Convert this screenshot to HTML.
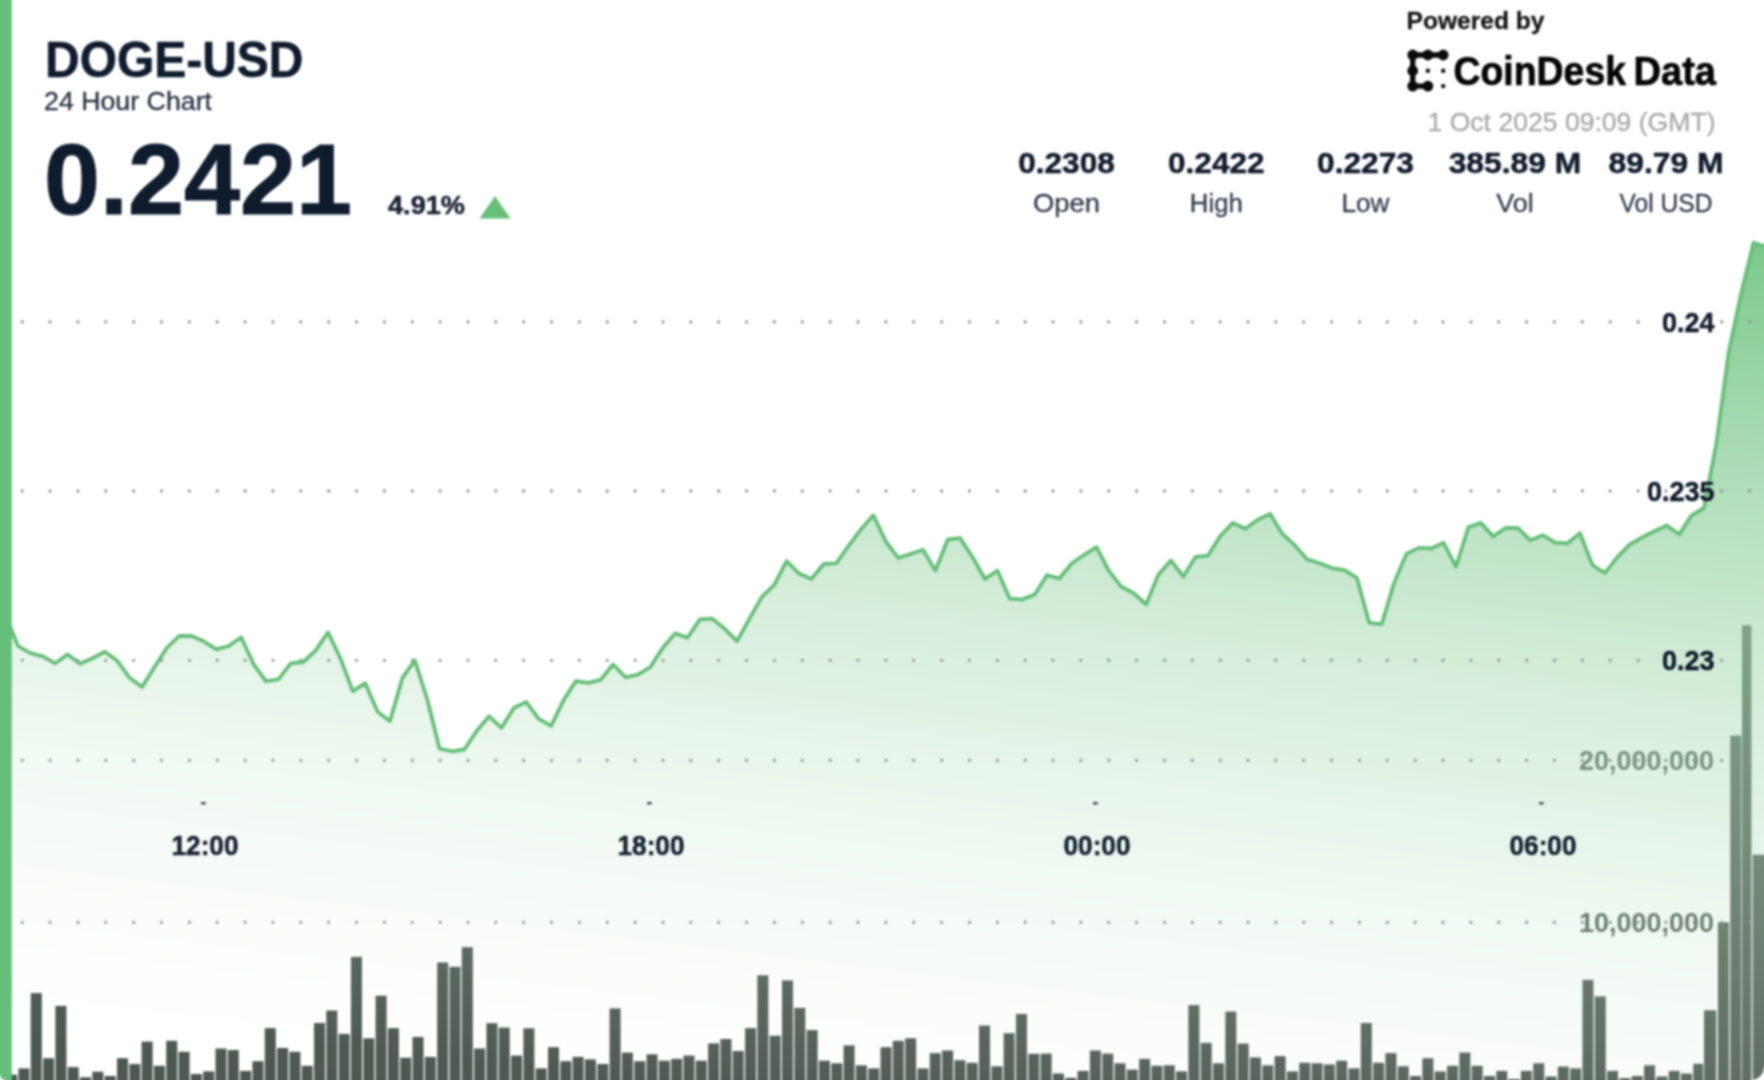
<!DOCTYPE html>
<html lang="en"><head><meta charset="utf-8"><title>DOGE-USD 24 Hour Chart</title>
<style>
html,body{margin:0;padding:0;background:#fff;}
body{width:1764px;height:1080px;overflow:hidden;}
svg{display:block;font-family:"Liberation Sans",Arial,Helvetica,sans-serif;}
</style></head><body>
<svg width="1764" height="1080" viewBox="0 0 1764 1080">
<defs>
<linearGradient id="ag" gradientUnits="userSpaceOnUse" x1="1764" y1="242" x2="1641.0" y2="1267.2"><stop offset="0.0000" stop-color="rgb(117,197,134)" stop-opacity="0.964"/><stop offset="0.0625" stop-color="rgb(125,201,141)" stop-opacity="0.900"/><stop offset="0.1250" stop-color="rgb(132,204,147)" stop-opacity="0.837"/><stop offset="0.1875" stop-color="rgb(140,207,154)" stop-opacity="0.773"/><stop offset="0.2500" stop-color="rgb(147,210,161)" stop-opacity="0.709"/><stop offset="0.3125" stop-color="rgb(155,213,167)" stop-opacity="0.645"/><stop offset="0.3750" stop-color="rgb(162,216,174)" stop-opacity="0.582"/><stop offset="0.4375" stop-color="rgb(170,219,180)" stop-opacity="0.518"/><stop offset="0.5000" stop-color="rgb(177,222,187)" stop-opacity="0.454"/><stop offset="0.5625" stop-color="rgb(184,225,193)" stop-opacity="0.391"/><stop offset="0.6250" stop-color="rgb(192,229,200)" stop-opacity="0.327"/><stop offset="0.6875" stop-color="rgb(199,232,206)" stop-opacity="0.263"/><stop offset="0.7500" stop-color="rgb(207,235,213)" stop-opacity="0.200"/><stop offset="0.8125" stop-color="rgb(214,238,219)" stop-opacity="0.136"/><stop offset="0.8750" stop-color="rgb(222,241,226)" stop-opacity="0.072"/><stop offset="0.9375" stop-color="rgb(229,244,232)" stop-opacity="0.008"/><stop offset="1.0000" stop-color="rgb(237,247,239)" stop-opacity="0.000"/></linearGradient>
<clipPath id="cp"><path d="M-30 -30 H1794 V1067 H1764 A13 13 0 0 1 1751 1080 V1110 H5 V1080 A5 5 0 0 1 0 1075 H-30 Z"/></clipPath>
<filter id="bl" color-interpolation-filters="sRGB" filterUnits="userSpaceOnUse" x="-30" y="-30" width="1824" height="1140"><feGaussianBlur stdDeviation="1.0"/></filter>
</defs>
<g filter="url(#bl)">
<rect x="-30" y="-30" width="1824" height="1140" fill="#ffffff"/>
<g clip-path="url(#cp)">
<g fill="#4c5850"><rect x="6.15" y="1074.7" width="11.0" height="35.3"/><rect x="18.46" y="1068.4" width="11.0" height="41.6"/><rect x="30.78" y="993.1" width="11.0" height="116.9"/><rect x="43.1" y="1058.2" width="11.0" height="51.8"/><rect x="55.41" y="1005.9" width="11.0" height="104.1"/><rect x="67.72" y="1067.1" width="11.0" height="42.9"/><rect x="80.04" y="1077.3" width="11.0" height="32.7"/><rect x="92.35" y="1071.7" width="11.0" height="38.3"/><rect x="104.67" y="1076.0" width="11.0" height="34.0"/><rect x="116.98" y="1058.2" width="11.0" height="51.8"/><rect x="129.3" y="1064.0" width="11.0" height="46.0"/><rect x="141.62" y="1041.6" width="11.0" height="68.4"/><rect x="153.93" y="1065.8" width="11.0" height="44.2"/><rect x="166.24" y="1040.8" width="11.0" height="69.2"/><rect x="178.56" y="1051.8" width="11.0" height="58.2"/><rect x="190.87" y="1074.0" width="11.0" height="36.0"/><rect x="203.19" y="1071.4" width="11.0" height="38.6"/><rect x="215.5" y="1048.5" width="11.0" height="61.5"/><rect x="227.82" y="1050.0" width="11.0" height="60.0"/><rect x="240.13" y="1070.9" width="11.0" height="39.1"/><rect x="252.45" y="1061.2" width="11.0" height="48.8"/><rect x="264.77" y="1028.1" width="11.0" height="81.9"/><rect x="277.08" y="1048.0" width="11.0" height="62.0"/><rect x="289.4" y="1051.8" width="11.0" height="58.2"/><rect x="301.71" y="1065.8" width="11.0" height="44.2"/><rect x="314.03" y="1023.0" width="11.0" height="87.0"/><rect x="326.34" y="1010.5" width="11.0" height="99.5"/><rect x="338.65" y="1033.9" width="11.0" height="76.1"/><rect x="350.97" y="956.9" width="11.0" height="153.1"/><rect x="363.28" y="1038.3" width="11.0" height="71.7"/><rect x="375.6" y="995.7" width="11.0" height="114.3"/><rect x="387.91" y="1028.1" width="11.0" height="81.9"/><rect x="400.23" y="1057.7" width="11.0" height="52.3"/><rect x="412.54" y="1037.0" width="11.0" height="73.0"/><rect x="424.86" y="1056.9" width="11.0" height="53.1"/><rect x="437.17" y="962.5" width="11.0" height="147.5"/><rect x="449.49" y="966.8" width="11.0" height="143.2"/><rect x="461.8" y="947.2" width="11.0" height="162.8"/><rect x="474.12" y="1048.5" width="11.0" height="61.5"/><rect x="486.43" y="1023.2" width="11.0" height="86.8"/><rect x="498.75" y="1027.6" width="11.0" height="82.4"/><rect x="511.06" y="1055.6" width="11.0" height="54.4"/><rect x="523.38" y="1028.3" width="11.0" height="81.7"/><rect x="535.69" y="1068.4" width="11.0" height="41.6"/><rect x="548.01" y="1047.2" width="11.0" height="62.8"/><rect x="560.32" y="1061.2" width="11.0" height="48.8"/><rect x="572.64" y="1056.9" width="11.0" height="53.1"/><rect x="584.95" y="1059.4" width="11.0" height="50.6"/><rect x="597.27" y="1064.0" width="11.0" height="46.0"/><rect x="609.58" y="1008.4" width="11.0" height="101.6"/><rect x="621.9" y="1052.6" width="11.0" height="57.4"/><rect x="634.21" y="1061.2" width="11.0" height="48.8"/><rect x="646.53" y="1054.3" width="11.0" height="55.7"/><rect x="658.84" y="1060.7" width="11.0" height="49.3"/><rect x="671.16" y="1058.9" width="11.0" height="51.1"/><rect x="683.47" y="1055.6" width="11.0" height="54.4"/><rect x="695.79" y="1060.7" width="11.0" height="49.3"/><rect x="708.1" y="1043.4" width="11.0" height="66.6"/><rect x="720.42" y="1039.0" width="11.0" height="71.0"/><rect x="732.73" y="1051.0" width="11.0" height="59.0"/><rect x="745.05" y="1028.1" width="11.0" height="81.9"/><rect x="757.36" y="975.3" width="11.0" height="134.7"/><rect x="769.68" y="1035.7" width="11.0" height="74.3"/><rect x="781.99" y="980.4" width="11.0" height="129.6"/><rect x="794.31" y="1007.9" width="11.0" height="102.1"/><rect x="806.63" y="1030.1" width="11.0" height="79.9"/><rect x="818.94" y="1060.7" width="11.0" height="49.3"/><rect x="831.26" y="1063.3" width="11.0" height="46.7"/><rect x="843.57" y="1045.4" width="11.0" height="64.6"/><rect x="855.89" y="1065.3" width="11.0" height="44.7"/><rect x="868.2" y="1068.4" width="11.0" height="41.6"/><rect x="880.52" y="1047.2" width="11.0" height="62.8"/><rect x="892.83" y="1040.8" width="11.0" height="69.2"/><rect x="905.15" y="1038.3" width="11.0" height="71.7"/><rect x="917.46" y="1068.4" width="11.0" height="41.6"/><rect x="929.77" y="1053.1" width="11.0" height="56.9"/><rect x="942.09" y="1050.5" width="11.0" height="59.5"/><rect x="954.4" y="1060.2" width="11.0" height="49.8"/><rect x="966.72" y="1062.8" width="11.0" height="47.2"/><rect x="979.03" y="1025.5" width="11.0" height="84.5"/><rect x="991.35" y="1066.3" width="11.0" height="43.7"/><rect x="1003.66" y="1033.2" width="11.0" height="76.8"/><rect x="1015.98" y="1014.0" width="11.0" height="96.0"/><rect x="1028.29" y="1053.8" width="11.0" height="56.2"/><rect x="1040.61" y="1053.6" width="11.0" height="56.4"/><rect x="1052.92" y="1073.5" width="11.0" height="36.5"/><rect x="1065.24" y="1077.8" width="11.0" height="32.2"/><rect x="1077.55" y="1070.9" width="11.0" height="39.1"/><rect x="1089.87" y="1050.5" width="11.0" height="59.5"/><rect x="1102.18" y="1053.6" width="11.0" height="56.4"/><rect x="1114.5" y="1063.3" width="11.0" height="46.7"/><rect x="1126.81" y="1069.6" width="11.0" height="40.4"/><rect x="1139.13" y="1058.9" width="11.0" height="51.1"/><rect x="1151.44" y="1065.8" width="11.0" height="44.2"/><rect x="1163.76" y="1065.3" width="11.0" height="44.7"/><rect x="1176.07" y="1071.4" width="11.0" height="38.6"/><rect x="1188.39" y="1005.1" width="11.0" height="104.9"/><rect x="1200.71" y="1042.9" width="11.0" height="67.1"/><rect x="1213.02" y="1063.3" width="11.0" height="46.7"/><rect x="1225.33" y="1011.5" width="11.0" height="98.5"/><rect x="1237.65" y="1043.6" width="11.0" height="66.4"/><rect x="1249.97" y="1057.4" width="11.0" height="52.6"/><rect x="1262.28" y="1065.3" width="11.0" height="44.7"/><rect x="1274.59" y="1056.1" width="11.0" height="53.9"/><rect x="1286.91" y="1071.4" width="11.0" height="38.6"/><rect x="1299.23" y="1062.8" width="11.0" height="47.2"/><rect x="1311.54" y="1063.3" width="11.0" height="46.7"/><rect x="1323.85" y="1064.5" width="11.0" height="45.5"/><rect x="1336.17" y="1060.7" width="11.0" height="49.3"/><rect x="1348.49" y="1068.4" width="11.0" height="41.6"/><rect x="1360.8" y="1023.0" width="11.0" height="87.0"/><rect x="1373.11" y="1062.8" width="11.0" height="47.2"/><rect x="1385.43" y="1053.1" width="11.0" height="56.9"/><rect x="1397.75" y="1066.3" width="11.0" height="43.7"/><rect x="1410.06" y="1076.0" width="11.0" height="34.0"/><rect x="1422.37" y="1058.2" width="11.0" height="51.8"/><rect x="1434.69" y="1071.4" width="11.0" height="38.6"/><rect x="1447.01" y="1065.8" width="11.0" height="44.2"/><rect x="1459.32" y="1052.6" width="11.0" height="57.4"/><rect x="1471.63" y="1065.8" width="11.0" height="44.2"/><rect x="1483.95" y="1076.0" width="11.0" height="34.0"/><rect x="1496.27" y="1070.9" width="11.0" height="39.1"/><rect x="1508.58" y="1079.1" width="11.0" height="30.9"/><rect x="1520.89" y="1070.9" width="11.0" height="39.1"/><rect x="1533.21" y="1063.3" width="11.0" height="46.7"/><rect x="1545.53" y="1076.5" width="11.0" height="33.5"/><rect x="1557.84" y="1066.6" width="11.0" height="43.4"/><rect x="1570.15" y="1068.4" width="11.0" height="41.6"/><rect x="1582.47" y="979.8" width="11.0" height="130.2"/><rect x="1594.78" y="996.4" width="11.0" height="113.6"/><rect x="1607.1" y="1070.9" width="11.0" height="39.1"/><rect x="1619.41" y="1078.1" width="11.0" height="31.9"/><rect x="1631.73" y="1076.0" width="11.0" height="34.0"/><rect x="1644.04" y="1065.3" width="11.0" height="44.7"/><rect x="1656.36" y="1076.5" width="11.0" height="33.5"/><rect x="1668.67" y="1070.9" width="11.0" height="39.1"/><rect x="1680.99" y="1073.5" width="11.0" height="36.5"/><rect x="1693.25" y="1063.8" width="9.8" height="46.2"/><rect x="1704.0" y="1010.3" width="12.3" height="99.7"/><rect x="1717.93" y="922.3" width="11.0" height="187.7"/><rect x="1730.25" y="735.6" width="11.0" height="374.4"/><rect x="1742.0" y="625.3" width="9.4" height="484.7"/><rect x="1752.7" y="854.8" width="20" height="255.2"/><text x="1714" y="769.8" font-size="26.8" font-weight="bold" fill="#4c5850" text-anchor="end" textLength="135" lengthAdjust="spacingAndGlyphs">20,000,000</text><text x="1714" y="931.9" font-size="26.8" font-weight="bold" fill="#4c5850" text-anchor="end" textLength="135" lengthAdjust="spacingAndGlyphs">10,000,000</text></g>
<path d="M5.7 616.0 L18.1 646.2 L30.5 653.1 L42.9 656.4 L55.3 663.3 L67.7 654.4 L80.1 663.8 L92.5 658.2 L104.9 651.8 L117.3 660.8 L129.7 677.9 L142.1 687.0 L154.5 667.1 L166.8 648.0 L179.2 636.0 L191.6 636.0 L204.0 641.6 L216.4 649.3 L228.8 646.0 L241.2 637.3 L253.6 664.1 L266.0 681.4 L278.4 679.4 L290.8 663.3 L303.2 662.0 L315.6 650.6 L328.0 632.2 L340.4 658.2 L352.8 691.4 L365.2 683.2 L377.6 711.8 L390.0 721.2 L402.4 677.9 L414.8 660.3 L427.2 699.0 L439.6 748.7 L452.0 751.3 L464.4 749.5 L476.7 730.9 L489.1 716.3 L501.5 727.8 L513.9 707.9 L526.3 702.0 L538.7 718.9 L551.1 725.8 L563.5 700.3 L575.9 681.1 L588.3 682.9 L600.7 679.8 L613.1 664.5 L625.5 677.3 L637.9 674.7 L650.3 667.1 L662.7 648.0 L675.1 633.4 L687.5 637.8 L699.9 619.4 L712.3 618.6 L724.7 628.8 L737.1 641.1 L749.5 618.6 L761.9 596.9 L774.3 584.9 L786.6 561.2 L799.0 573.5 L811.4 579.1 L823.8 563.8 L836.2 563.3 L848.6 545.9 L861.0 529.3 L873.4 515.3 L885.8 541.5 L898.2 557.9 L910.6 554.0 L923.0 549.7 L935.4 570.6 L947.8 539.5 L960.2 538.2 L972.6 557.3 L985.0 579.0 L997.4 570.6 L1009.8 598.7 L1022.2 599.4 L1034.6 594.8 L1047.0 575.2 L1059.4 578.5 L1071.8 563.2 L1084.2 554.8 L1096.5 547.1 L1108.9 570.9 L1121.3 586.7 L1133.7 593.1 L1146.1 604.5 L1158.5 574.4 L1170.9 560.4 L1183.3 576.5 L1195.7 556.8 L1208.1 555.6 L1220.5 535.7 L1232.9 522.9 L1245.3 528.8 L1257.7 519.8 L1270.1 514.0 L1282.5 533.9 L1294.9 545.4 L1307.3 559.4 L1319.7 563.2 L1332.1 568.1 L1344.5 570.1 L1356.9 577.8 L1369.3 622.9 L1381.7 624.2 L1394.1 582.9 L1406.4 554.0 L1418.8 547.9 L1431.2 548.4 L1443.6 542.8 L1456.0 566.8 L1468.4 527.2 L1480.8 522.9 L1493.2 536.4 L1505.6 528.0 L1518.0 528.0 L1530.4 540.3 L1542.8 535.2 L1555.2 542.6 L1567.6 543.3 L1580.0 533.1 L1592.4 565.0 L1604.8 573.2 L1617.2 557.3 L1629.6 544.6 L1642.0 537.4 L1654.4 531.3 L1666.8 525.5 L1679.2 534.4 L1691.6 515.3 L1704.0 508.0 L1716.3 443.9 L1728.7 352.2 L1741.1 293.9 L1753.5 242.8 L1765.9 246.5 L1800 246.5 L1800 1110 L-30 1110 L-30 616.0 Z" fill="url(#ag)"/>
<path d="M5.7 616.0 L18.1 646.2 L30.5 653.1 L42.9 656.4 L55.3 663.3 L67.7 654.4 L80.1 663.8 L92.5 658.2 L104.9 651.8 L117.3 660.8 L129.7 677.9 L142.1 687.0 L154.5 667.1 L166.8 648.0 L179.2 636.0 L191.6 636.0 L204.0 641.6 L216.4 649.3 L228.8 646.0 L241.2 637.3 L253.6 664.1 L266.0 681.4 L278.4 679.4 L290.8 663.3 L303.2 662.0 L315.6 650.6 L328.0 632.2 L340.4 658.2 L352.8 691.4 L365.2 683.2 L377.6 711.8 L390.0 721.2 L402.4 677.9 L414.8 660.3 L427.2 699.0 L439.6 748.7 L452.0 751.3 L464.4 749.5 L476.7 730.9 L489.1 716.3 L501.5 727.8 L513.9 707.9 L526.3 702.0 L538.7 718.9 L551.1 725.8 L563.5 700.3 L575.9 681.1 L588.3 682.9 L600.7 679.8 L613.1 664.5 L625.5 677.3 L637.9 674.7 L650.3 667.1 L662.7 648.0 L675.1 633.4 L687.5 637.8 L699.9 619.4 L712.3 618.6 L724.7 628.8 L737.1 641.1 L749.5 618.6 L761.9 596.9 L774.3 584.9 L786.6 561.2 L799.0 573.5 L811.4 579.1 L823.8 563.8 L836.2 563.3 L848.6 545.9 L861.0 529.3 L873.4 515.3 L885.8 541.5 L898.2 557.9 L910.6 554.0 L923.0 549.7 L935.4 570.6 L947.8 539.5 L960.2 538.2 L972.6 557.3 L985.0 579.0 L997.4 570.6 L1009.8 598.7 L1022.2 599.4 L1034.6 594.8 L1047.0 575.2 L1059.4 578.5 L1071.8 563.2 L1084.2 554.8 L1096.5 547.1 L1108.9 570.9 L1121.3 586.7 L1133.7 593.1 L1146.1 604.5 L1158.5 574.4 L1170.9 560.4 L1183.3 576.5 L1195.7 556.8 L1208.1 555.6 L1220.5 535.7 L1232.9 522.9 L1245.3 528.8 L1257.7 519.8 L1270.1 514.0 L1282.5 533.9 L1294.9 545.4 L1307.3 559.4 L1319.7 563.2 L1332.1 568.1 L1344.5 570.1 L1356.9 577.8 L1369.3 622.9 L1381.7 624.2 L1394.1 582.9 L1406.4 554.0 L1418.8 547.9 L1431.2 548.4 L1443.6 542.8 L1456.0 566.8 L1468.4 527.2 L1480.8 522.9 L1493.2 536.4 L1505.6 528.0 L1518.0 528.0 L1530.4 540.3 L1542.8 535.2 L1555.2 542.6 L1567.6 543.3 L1580.0 533.1 L1592.4 565.0 L1604.8 573.2 L1617.2 557.3 L1629.6 544.6 L1642.0 537.4 L1654.4 531.3 L1666.8 525.5 L1679.2 534.4 L1691.6 515.3 L1704.0 508.0 L1716.3 443.9 L1728.7 352.2 L1741.1 293.9 L1753.5 242.8 L1765.9 246.5" fill="none" stroke="#66bf79" stroke-width="3.8" stroke-linejoin="round" stroke-linecap="round"/>
<line x1="20.9" y1="322" x2="1764" y2="322" stroke="#8d9293" stroke-width="2.8" stroke-dasharray="2.6 25.26" stroke-linecap="butt"/><line x1="20.9" y1="491" x2="1764" y2="491" stroke="#8d9293" stroke-width="2.8" stroke-dasharray="2.6 25.26" stroke-linecap="butt"/><line x1="20.9" y1="660.3" x2="1764" y2="660.3" stroke="#8d9293" stroke-width="2.8" stroke-dasharray="2.6 25.26" stroke-linecap="butt"/><line x1="20.9" y1="760.3" x2="1764" y2="760.3" stroke="#8d9293" stroke-width="2.8" stroke-dasharray="2.6 25.26" stroke-linecap="butt"/><line x1="20.9" y1="922.4" x2="1764" y2="922.4" stroke="#8d9293" stroke-width="2.8" stroke-dasharray="2.6 25.26" stroke-linecap="butt"/>
<rect x="-30" y="-30" width="41.8" height="1140" fill="#66bf79"/>
<polygon points="495,196 510.5,218.5 479.5,218.5" fill="#66bf79"/>
<g fill="#0a0a0a" stroke="#0a0a0a"><path d="M1443.2 55 L1412.7 55 L1412.7 86.1 L1427.9 86.1" fill="none" stroke-width="5.4" stroke-linecap="round" stroke-linejoin="round"/><circle cx="1412.7" cy="55" r="5.4" stroke="none"/><circle cx="1427.9" cy="55" r="5.4" stroke="none"/><circle cx="1443.2" cy="55" r="5.4" stroke="none"/><circle cx="1412.7" cy="70.8" r="5.4" stroke="none"/><circle cx="1412.7" cy="86.1" r="5.4" stroke="none"/><circle cx="1427.9" cy="86.1" r="5.4" stroke="none"/><circle cx="1427.9" cy="70.8" r="2.2" stroke="none"/><circle cx="1443.2" cy="70.8" r="2.2" stroke="none"/><circle cx="1443.2" cy="86.1" r="2.2" stroke="none"/></g>
<text x="45" y="77.0" font-size="50" font-weight="bold" fill="#0f1c2e" text-anchor="start" textLength="258.5" lengthAdjust="spacingAndGlyphs" stroke="#0f1c2e" stroke-width="0.6" stroke-linejoin="round">DOGE-USD</text><text x="44" y="110" font-size="26.5" font-weight="normal" fill="#273242" text-anchor="start" textLength="168" lengthAdjust="spacingAndGlyphs" stroke="#273242" stroke-width="0.3" stroke-linejoin="round">24 Hour Chart</text><text x="44" y="214" font-size="100.5" font-weight="bold" fill="#0f1c2e" text-anchor="start" textLength="308" lengthAdjust="spacingAndGlyphs" stroke="#0f1c2e" stroke-width="1.0" stroke-linejoin="round">0.2421</text><text x="388" y="214" font-size="26" font-weight="bold" fill="#172232" text-anchor="start" textLength="77" lengthAdjust="spacingAndGlyphs" stroke="#172232" stroke-width="0.5" stroke-linejoin="round">4.91%</text><text x="1066.5" y="173" font-size="30" font-weight="bold" fill="#101b2b" text-anchor="middle" textLength="96.5" lengthAdjust="spacingAndGlyphs" stroke="#101b2b" stroke-width="0.5" stroke-linejoin="round">0.2308</text><text x="1066.5" y="212" font-size="26.5" font-weight="normal" fill="#323d4c" text-anchor="middle" textLength="67" lengthAdjust="spacingAndGlyphs" stroke="#323d4c" stroke-width="0.3" stroke-linejoin="round">Open</text><text x="1216.3" y="173" font-size="30" font-weight="bold" fill="#101b2b" text-anchor="middle" textLength="96.5" lengthAdjust="spacingAndGlyphs" stroke="#101b2b" stroke-width="0.5" stroke-linejoin="round">0.2422</text><text x="1216.3" y="212" font-size="26.5" font-weight="normal" fill="#323d4c" text-anchor="middle" textLength="53" lengthAdjust="spacingAndGlyphs" stroke="#323d4c" stroke-width="0.3" stroke-linejoin="round">High</text><text x="1365.5" y="173" font-size="30" font-weight="bold" fill="#101b2b" text-anchor="middle" textLength="97" lengthAdjust="spacingAndGlyphs" stroke="#101b2b" stroke-width="0.5" stroke-linejoin="round">0.2273</text><text x="1365.5" y="212" font-size="26.5" font-weight="normal" fill="#323d4c" text-anchor="middle" textLength="48" lengthAdjust="spacingAndGlyphs" stroke="#323d4c" stroke-width="0.3" stroke-linejoin="round">Low</text><text x="1514.9" y="173" font-size="30" font-weight="bold" fill="#101b2b" text-anchor="middle" textLength="132.5" lengthAdjust="spacingAndGlyphs" stroke="#101b2b" stroke-width="0.5" stroke-linejoin="round">385.89 M</text><text x="1514.9" y="212" font-size="26.5" font-weight="normal" fill="#323d4c" text-anchor="middle" textLength="37.5" lengthAdjust="spacingAndGlyphs" stroke="#323d4c" stroke-width="0.3" stroke-linejoin="round">Vol</text><text x="1666" y="173" font-size="30" font-weight="bold" fill="#101b2b" text-anchor="middle" textLength="115" lengthAdjust="spacingAndGlyphs" stroke="#101b2b" stroke-width="0.5" stroke-linejoin="round">89.79 M</text><text x="1666" y="212" font-size="26.5" font-weight="normal" fill="#323d4c" text-anchor="middle" textLength="93" lengthAdjust="spacingAndGlyphs" stroke="#323d4c" stroke-width="0.3" stroke-linejoin="round">Vol USD</text><text x="1406.5" y="29.3" font-size="24.5" font-weight="bold" fill="#141414" text-anchor="start" textLength="138" lengthAdjust="spacingAndGlyphs" stroke="#141414" stroke-width="0.3" stroke-linejoin="round">Powered by</text><text x="1453.5" y="85" font-size="40" font-weight="bold" fill="#050505" text-anchor="start" textLength="172.5" lengthAdjust="spacingAndGlyphs" stroke="#050505" stroke-width="0.7" stroke-linejoin="round">CoinDesk</text><text x="1633.5" y="85" font-size="40" font-weight="bold" fill="#050505" text-anchor="start" textLength="82.5" lengthAdjust="spacingAndGlyphs" stroke="#050505" stroke-width="0.7" stroke-linejoin="round">Data</text><text x="1715.5" y="130.5" font-size="26.5" font-weight="normal" fill="#a8a8a8" text-anchor="end" textLength="288" lengthAdjust="spacingAndGlyphs" stroke="#a8a8a8" stroke-width="0.3" stroke-linejoin="round">1 Oct 2025 09:09 (GMT)</text><text x="1714.5" y="331.8" font-size="27" font-weight="bold" fill="#0f1a2a" text-anchor="end" stroke="#0f1a2a" stroke-width="0.5" stroke-linejoin="round">0.24</text><text x="1714.5" y="500.8" font-size="27" font-weight="bold" fill="#0f1a2a" text-anchor="end" stroke="#0f1a2a" stroke-width="0.5" stroke-linejoin="round">0.235</text><text x="1714.5" y="670.0999999999999" font-size="27" font-weight="bold" fill="#0f1a2a" text-anchor="end" stroke="#0f1a2a" stroke-width="0.5" stroke-linejoin="round">0.23</text><rect x="201.1" y="802.2" width="4.6" height="2.2" fill="#2c3747"/><text x="205" y="855" font-size="26.8" font-weight="bold" fill="#172232" text-anchor="middle" textLength="67" lengthAdjust="spacingAndGlyphs" stroke="#172232" stroke-width="0.5" stroke-linejoin="round">12:00</text><rect x="647.1" y="802.2" width="4.6" height="2.2" fill="#2c3747"/><text x="651" y="855" font-size="26.8" font-weight="bold" fill="#172232" text-anchor="middle" textLength="67" lengthAdjust="spacingAndGlyphs" stroke="#172232" stroke-width="0.5" stroke-linejoin="round">18:00</text><rect x="1093.1" y="802.2" width="4.6" height="2.2" fill="#2c3747"/><text x="1097" y="855" font-size="26.8" font-weight="bold" fill="#172232" text-anchor="middle" textLength="67" lengthAdjust="spacingAndGlyphs" stroke="#172232" stroke-width="0.5" stroke-linejoin="round">00:00</text><rect x="1539.1" y="802.2" width="4.6" height="2.2" fill="#2c3747"/><text x="1543" y="855" font-size="26.8" font-weight="bold" fill="#172232" text-anchor="middle" textLength="67" lengthAdjust="spacingAndGlyphs" stroke="#172232" stroke-width="0.5" stroke-linejoin="round">06:00</text>
</g>
</g>
</svg>
</body></html>
